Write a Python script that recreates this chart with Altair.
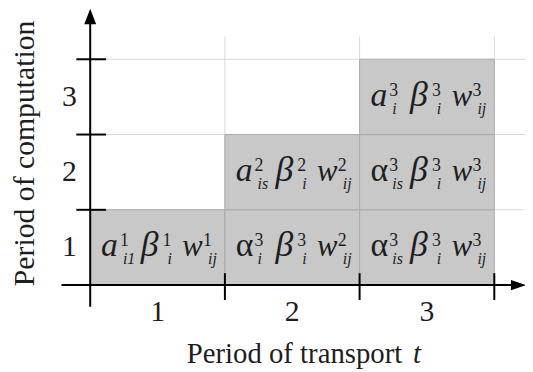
import altair as alt
import pandas as pd

# ---- data ----
transport_periods = [1, 2, 3]
computation_periods = [1, 2, 3]
tick_labels = ["1", "2", "3"]

cell_t = [1, 2, 2, 3, 3, 3]
cell_c = [1, 1, 2, 1, 2, 3]
sym_a = ["a", "α", "a", "α", "α", "a"]
sup_a = ["1", "3", "2", "3", "3", "3"]
sub_a = ["i1", "i", "is", "is", "is", "i"]
sym_b = ["β", "β", "β", "β", "β", "β"]
sup_b = ["1", "3", "2", "3", "3", "3"]
sub_b = ["i", "i", "i", "i", "i", "i"]
sym_w = ["w", "w", "w", "w", "w", "w"]
sup_w = ["1", "2", "2", "3", "3", "3"]
sub_w = ["ij", "ij", "ij", "ij", "ij", "ij"]

x_title = "Period of transport"
x_title_var = "t"
y_title = "Period of computation"

# ---- layout ----
W, H = 522, 364
X0, Y0 = 91 - 8, 286 - 8      # plot-space pixel of origin
UX, UY = 136.0, 76.0           # pixels per period
FONT = "Liberation Serif"
INK = "#1e1e1e"


def px(p):
    return (p - X0) / UX


def py(p):
    return (Y0 - p) / UY


xs = alt.Scale(domain=[px(0), px(W)], nice=False, zero=False)
ys = alt.Scale(domain=[py(H), py(0)], nice=False, zero=False)


def X(f, **kw):
    return alt.X(f, type="quantitative", scale=xs, axis=None, **kw)


def Y(f, **kw):
    return alt.Y(f, type="quantitative", scale=ys, axis=None, **kw)


cells = pd.DataFrame({
    "t": cell_t, "c": cell_c,
    "sa": sym_a, "pa": sup_a, "ba": sub_a,
    "sb": sym_b, "pb": sup_b, "bb": sub_b,
    "sw": sym_w, "pw": sup_w, "bw": sub_w,
})
cells["x0"] = cells["t"] - 1
cells["x1"] = cells["t"]
cells["y0"] = cells["c"] - 1
cells["y1"] = cells["c"]

# light grid lines
hgrid = pd.DataFrame({"y": computation_periods, "x0": 0, "x1": (530 - 91) / UX})
vgrid = pd.DataFrame({"x": transport_periods, "y0": 0, "y1": (286 - 35) / UY})

layers = []
layers.append(alt.Chart(hgrid).mark_rule(color="#d8d8d8", strokeWidth=1).encode(
    x=X("x0"), x2="x1", y=Y("y")))
layers.append(alt.Chart(vgrid).mark_rule(color="#d8d8d8", strokeWidth=1).encode(
    x=X("x"), y=Y("y0"), y2="y1"))

# gray cells
layers.append(alt.Chart(cells).mark_rect(fill="#c8c8c8", stroke="#ababab", strokeWidth=1).encode(
    x=X("x0"), x2="x1", y=Y("y0"), y2="y1"))

# cell texts: three groups, each with letter, superscript, subscript
SUP, SUB = 18, 16
groups = [
    ("sa", "pa", "ba", 11, 34, 19, 22),
    ("sb", "pb", "bb", 51, 36, 22, 27),
    ("sw", "pw", "bw", 93, 31, 21, 26),
]
for s, p, b, off, size, sup_off, sub_off in groups:
    base = alt.Chart(cells)
    layers.append(base.mark_text(
        font=FONT, fontSize=size, fontStyle="italic", align="left", baseline="alphabetic",
        dx=off, dy=-29, color=INK).encode(
        x=X("x0"), y=Y("y0"), text=f"{s}:N").transform_filter(f"datum.{s} != 'α'"))
    layers.append(base.mark_text(
        font=FONT, fontSize=size, fontStyle="normal", align="left", baseline="alphabetic",
        dx=off, dy=-29, color=INK).encode(
        x=X("x0"), y=Y("y0"), text=f"{s}:N").transform_filter(f"datum.{s} == 'α'"))
    layers.append(base.mark_text(
        font=FONT, fontSize=SUP, align="left", baseline="alphabetic",
        dx=off + sup_off, dy=-39, color=INK).encode(
        x=X("x0"), y=Y("y0"), text=f"{p}:N"))
    layers.append(base.mark_text(
        font=FONT, fontSize=SUB, fontStyle="italic", align="left", baseline="alphabetic",
        dx=off + sub_off, dy=-21, color=INK).encode(
        x=X("x0"), y=Y("y0"), text=f"{b}:N"))

# axes lines
yaxis = pd.DataFrame({"x": [0], "y0": [(286 - 308) / UY], "y1": [(286 - 18) / UY]})
xaxis = pd.DataFrame({"y": [0], "x0": [(62 - 91) / UX], "x1": [(522 - 91) / UX]})
layers.append(alt.Chart(yaxis).mark_rule(color="black", strokeWidth=2).encode(
    x=X("x"), y=Y("y0"), y2="y1"))
layers.append(alt.Chart(xaxis).mark_rule(color="black", strokeWidth=2).encode(
    x=X("x0"), x2="x1", y=Y("y")))

# axis ticks
yt = pd.DataFrame({"y": computation_periods, "x0": (77 - 91) / UX, "x1": (107 - 91) / UX})
xt = pd.DataFrame({"x": transport_periods, "y0": (286 - 301) / UY, "y1": (286 - 274) / UY})
layers.append(alt.Chart(yt).mark_rule(color="black", strokeWidth=2).encode(
    x=X("x0"), x2="x1", y=Y("y")))
layers.append(alt.Chart(xt).mark_rule(color="black", strokeWidth=2).encode(
    x=X("x"), y=Y("y0"), y2="y1"))

# arrow heads
up = pd.DataFrame({"x": [0], "y": [(286 - 15) / UY]})
right = pd.DataFrame({"x": [(523 - 91) / UX], "y": [0]})
layers.append(alt.Chart(up).mark_point(
    shape="M0,-1L0.75,0.95L-0.75,0.95Z", size=256, filled=True, color="black", opacity=1).encode(
    x=X("x"), y=Y("y")))
layers.append(alt.Chart(right).mark_point(
    shape="M1,0L-0.9,0.65L-0.9,-0.65Z", size=256, filled=True, color="black", opacity=1).encode(
    x=X("x"), y=Y("y")))

# tick labels
xl = pd.DataFrame({"x": [t - 0.5 for t in transport_periods], "y": 0, "lab": tick_labels})
yl = pd.DataFrame({"y": [c - 0.5 for c in computation_periods], "x": 0, "lab": tick_labels})
layers.append(alt.Chart(xl).mark_text(font=FONT, fontSize=30, baseline="middle", dy=27,
                                      color=INK).encode(
    x=X("x"), y=Y("y"), text="lab:N"))
layers.append(alt.Chart(yl).mark_text(font=FONT, fontSize=30, baseline="middle", dx=-21,
                                      color=INK).encode(
    x=X("x"), y=Y("y"), text="lab:N"))

# axis titles
xtitle = pd.DataFrame({"x": [(406 - 91) / UX], "y": [0], "a": [x_title], "b": [x_title_var]})
layers.append(alt.Chart(xtitle).mark_text(font=FONT, fontSize=29, align="right",
                                          baseline="alphabetic", dy=79, color=INK).encode(
    x=X("x"), y=Y("y"), text="a:N"))
layers.append(alt.Chart(xtitle).mark_text(font=FONT, fontSize=29, align="left", fontStyle="italic",
                                          baseline="alphabetic", dy=79, dx=11, color=INK).encode(
    x=X("x"), y=Y("y"), text="b:N"))
ytitle = pd.DataFrame({"x": [(25 - 91) / UX], "y": [(286 - 153) / UY], "a": [y_title]})
layers.append(alt.Chart(ytitle).mark_text(font=FONT, fontSize=30, angle=270, align="center",
                                          baseline="middle", color=INK).encode(
    x=X("x"), y=Y("y"), text="a:N"))

chart = alt.layer(*layers).properties(
    width=W, height=H, padding=0, autosize=alt.AutoSizeParams(type="none")
).configure_view(stroke=None)

chart.save("out.html", embed_options={"renderer": "svg", "actions": False})
